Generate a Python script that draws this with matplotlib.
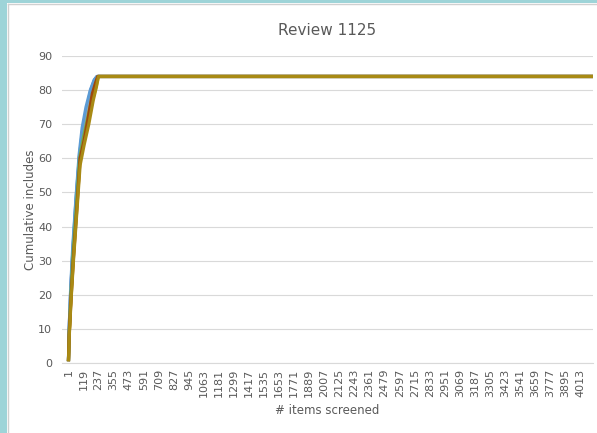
import matplotlib.pyplot as plt
import matplotlib.patches as mpatches

# items screened at which each run reaches the cumulative count
n_items = 4113
x_blue = [1, 5, 18, 35, 60, 85, 110, 140, 175, 205, 225, n_items]
y_blue = [1, 9, 21, 33, 48, 60, 68, 74, 80, 83, 84, 84]
x_orange = [1, 6, 20, 38, 62, 88, 118, 150, 185, 215, 232, n_items]
y_orange = [1, 8, 20, 32, 46, 61, 66, 72, 78, 82, 84, 84]
x_gray = [1, 5, 19, 36, 61, 86, 114, 146, 180, 210, 228, n_items]
y_gray = [1, 9, 21, 33, 47, 60, 67, 73, 79, 82, 84, 84]
x_yellow = [1, 6, 21, 39, 64, 90, 120, 155, 190, 218, 235, n_items]
y_yellow = [1, 8, 20, 31, 45, 59, 65, 71, 77, 81, 84, 84]
x_navy = [1, 5, 18, 34, 59, 84, 108, 138, 172, 202, 224, n_items]
y_navy = [1, 9, 22, 34, 48, 61, 69, 75, 80, 83, 84, 84]
x_green = [1, 6, 20, 37, 63, 88, 117, 152, 187, 216, 233, n_items]
y_green = [1, 8, 20, 32, 46, 60, 66, 72, 78, 82, 84, 84]
x_brown = [1, 6, 21, 40, 66, 92, 122, 156, 188, 212, 230, n_items]
y_brown = [1, 8, 19, 31, 45, 60, 65, 72, 79, 82, 84, 84]
x_gold = [1, 7, 22, 40, 66, 92, 124, 160, 195, 220, 236, n_items]
y_gold = [1, 8, 19, 30, 44, 58, 64, 70, 77, 81, 84, 84]

series = [
    (x_blue, y_blue, '#4472C4'),
    (x_orange, y_orange, '#ED7D31'),
    (x_gray, y_gray, '#A5A5A5'),
    (x_yellow, y_yellow, '#FFC000'),
    (x_navy, y_navy, '#5B9BD5'),
    (x_green, y_green, '#70AD47'),
    (x_brown, y_brown, '#9E480E'),
    (x_gold, y_gold, '#A88A14'),
]

tick_pos = list(range(1, 4014, 118))

fig = plt.figure(figsize=(5.97, 4.33), dpi=100)
fig.patch.set_facecolor('white')
# teal window strips on the left and top, light frame round the chart
fig.add_artist(mpatches.Rectangle((0, 0), 7 / 597, 1, transform=fig.transFigure,
                                  facecolor='#9ED4D8', edgecolor='none'))
fig.add_artist(mpatches.Rectangle((0, 1 - 3 / 433), 1, 3 / 433, transform=fig.transFigure,
                                  facecolor='#9ED4D8', edgecolor='none'))
fig.add_artist(plt.Line2D([8 / 597, 8 / 597], [0, 1 - 4 / 433], transform=fig.transFigure,
                          color='#D0D0D0', lw=1))
fig.add_artist(plt.Line2D([8 / 597, 1], [1 - 4 / 433, 1 - 4 / 433], transform=fig.transFigure,
                          color='#D0D0D0', lw=1))

ax = fig.add_axes([62 / 597, 1 - 363 / 433, 531 / 597, 307 / 433])

for xs, ys, c in series:
    ax.plot(xs, ys, color=c, lw=2.3, solid_joinstyle='round')

ax.set_xlim(-50, n_items)
ax.set_ylim(0, 90)
ax.set_yticks(range(0, 91, 10))
ax.set_xticks(tick_pos)
ax.set_xticklabels([str(t) for t in tick_pos], rotation=90)
ax.grid(axis='y', color='#D9D9D9', lw=0.8)
ax.set_axisbelow(True)
for s in ['top', 'right', 'left']:
    ax.spines[s].set_visible(False)
ax.spines['bottom'].set_color('#D9D9D9')
ax.tick_params(length=0, labelsize=8, labelcolor='#595959')
ax.tick_params(axis='y', pad=7)
ax.tick_params(axis='x', pad=4)

ax.set_title('Review 1125', fontsize=11, color='#595959', pad=15)
ax.set_ylabel('Cumulative includes', fontsize=8.5, color='#595959', labelpad=1)
ax.set_xlabel('# items screened', fontsize=8.5, color='#595959', labelpad=5)

fig.savefig('out.png', dpi=100)
